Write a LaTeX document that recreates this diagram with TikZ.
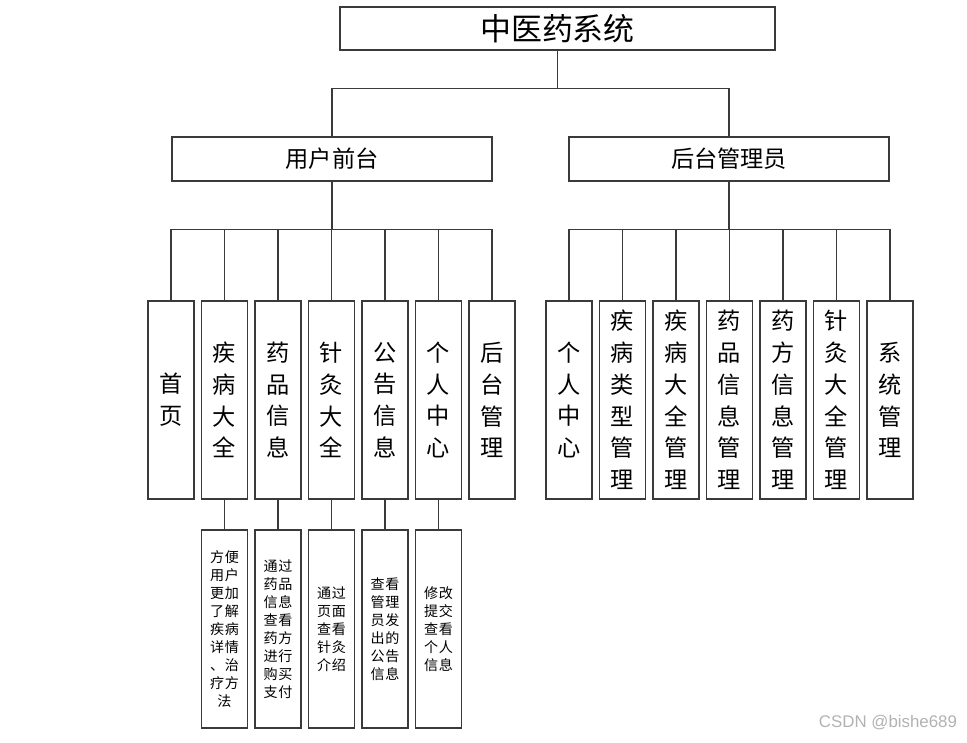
\documentclass[tikz,border=0pt]{standalone}
\usepackage{fontspec}
\setmainfont{Noto Sans CJK SC}
\newfontfamily\notefont[LetterSpace=6]{Noto Sans CJK SC}
\newfontfamily\wmfont{Liberation Sans}
\usepackage{tikz}
\usetikzlibrary{calc}
\definecolor{edge}{HTML}{3A3A3A}
\tikzset{
  box/.style={draw=edge, line width=0.9pt, fill=white, inner sep=0pt, align=center},
  col/.style={box, minimum width=1.15cm, minimum height=4.95cm, font=\fontsize{16.5}{22.6}\selectfont},
  note/.style={box, minimum width=1.15cm, minimum height=4.95cm, font=\notefont\fontsize{10}{12.8}\selectfont},
  wire/.style={edge, line width=0.8pt},
}
\begin{document}
\begin{tikzpicture}[x=0.025cm, y=-0.025cm]
  \useasboundingbox (0,0) rectangle (967,743);
  % root and the two branches
  \node[box, minimum width=10.875cm, minimum height=1.075cm, font=\fontsize{22}{26}\selectfont] (root) at (557.5,28.5) {中医药系统};
  \node[box, minimum width=8cm, minimum height=1.1cm, font=\fontsize{16.5}{20}\selectfont] (fe) at (332,159) {用户前台};
  \node[box, minimum width=8cm, minimum height=1.1cm, font=\fontsize{16.5}{20}\selectfont] (be) at (729,159) {后台管理员};
  \draw[wire] (root.south) -- ++(0,38) -| (fe.north);
  \draw[wire] (root.south) -- ++(0,38) -| (be.north);
  % front end modules
  \foreach \lab [count=\k] in {首\\页, 疾\\病\\大\\全, 药\\品\\信\\息, 针\\灸\\大\\全, 公\\告\\信\\息, 个\\人\\中\\心, 后\\台\\管\\理} {
    \node[col] (u\k) at ({171+53.5*(\k-1)},400) {\lab};
    \draw[wire] (fe.south) -- ++(0,48) -| (u\k.north);
  }
  % back end modules
  \foreach \lab [count=\k] in {个\\人\\中\\心, 疾\\病\\类\\型\\管\\理, 疾\\病\\大\\全\\管\\理, 药\\品\\信\\息\\管\\理, 药\\方\\信\\息\\管\\理, 针\\灸\\大\\全\\管\\理, 系\\统\\管\\理} {
    \node[col] (a\k) at ({569+53.5*(\k-1)},400) {\lab};
    \draw[wire] (be.south) -- ++(0,48) -| (a\k.north);
  }
  % notes under the front end modules
  \foreach \k/\txt in {2/方便\\用户\\更加\\了解\\疾病\\详情\\、治\\疗方\\法,
                       3/通过\\药品\\信息\\查看\\药方\\进行\\购买\\支付,
                       4/通过\\页面\\查看\\针灸\\介绍,
                       5/查看\\管理\\员发\\出的\\公告\\信息,
                       6/修改\\提交\\查看\\个人\\信息} {
    \node[note] (d\k) at ({171+53.5*(\k-1)},629) {\txt};
    \draw[wire] (u\k.south) -- (d\k.north);
  }
  \node[font=\wmfont\fontsize{12}{14}\selectfont, text=black!30, anchor=east] (mark) at (962,723) {CSDN @bishe689};
\end{tikzpicture}
\end{document}
